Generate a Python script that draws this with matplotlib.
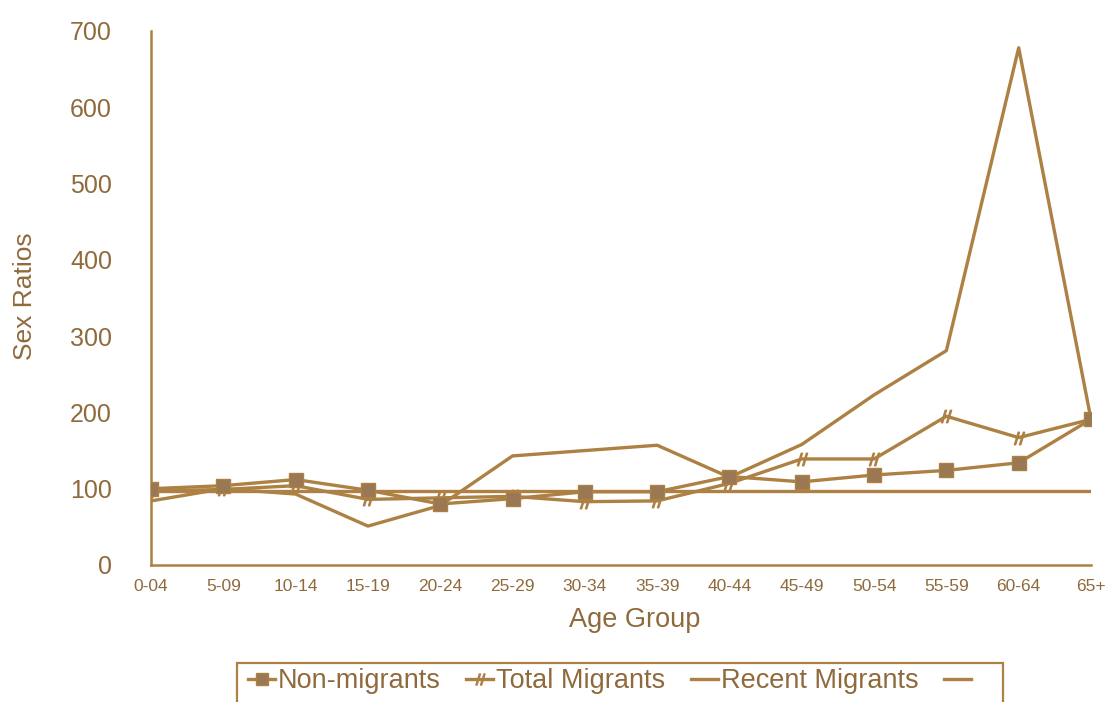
import matplotlib
matplotlib.use("Agg")
import matplotlib.pyplot as plt
from matplotlib.lines import Line2D
from matplotlib.patches import Rectangle

# Sex ratios by age group
age_groups = ["0-04", "5-09", "10-14", "15-19", "20-24", "25-29", "30-34",
              "35-39", "40-44", "45-49", "50-54", "55-59", "60-64", "65+"]
non_migrants = [100, 104, 112, 98, 80, 87, 96, 96, 116, 109, 118, 124, 134, 191]
total_migrants = [97, 99, 104, 86, 88, 90, 83, 84, 107, 139, 139, 195, 167, 191]
recent_migrants = [84, 100, 93, 51, 78, 143, 150, 157, 115, 158, 223, 281, 678, 191]
unlabelled = [97, 97, 97, 97, 97, 97, 97, 97, 97, 97, 97, 97, 97, 97]
y_ticks = [0, 100, 200, 300, 400, 500, 600, 700]

LINE = "#ad8043"
MARK = "#9a7853"
TEXT = "#8f6a3c"

plt.rcParams["font.family"] = ["Liberation Sans", "DejaVu Sans"]

fig = plt.figure(figsize=(11.12, 7.02), dpi=100)
ax = fig.add_axes([151 / 1112, 1 - 565 / 702, (1091 - 151) / 1112, (565 - 31) / 702])

x = list(range(len(age_groups)))
ax.plot(x, unlabelled, color=LINE, lw=2.4, zorder=2)
ax.plot(x, recent_migrants, color=LINE, lw=2.4, zorder=3)
ax.plot(x, total_migrants, color=LINE, lw=2.4, marker="$//$", ms=9,
        mec=LINE, mfc=LINE, zorder=4)
ax.plot(x, non_migrants, color=LINE, lw=2.4, marker="s", ms=10,
        mec=LINE, mfc=MARK, zorder=5)

ax.set_xlim(0, len(age_groups) - 1)
ax.set_ylim(0, 700)
ax.set_xticks(x)
ax.set_xticklabels(age_groups, fontsize=12.5, color=TEXT)
ax.set_yticks(y_ticks)
ax.set_yticklabels([str(v) for v in y_ticks], fontsize=18, color=TEXT)
ax.tick_params(axis="x", length=0, pad=10)
ax.tick_params(axis="y", length=0, pad=28)

for side in ("top", "right"):
    ax.spines[side].set_visible(False)
for side in ("left", "bottom"):
    ax.spines[side].set_color(LINE)
    ax.spines[side].set_linewidth(1.8)

fig.text(25 / 1112, 1 - 296 / 702, "Sex Ratios", fontsize=19, color=TEXT,
         rotation=90, ha="center", va="center")
fig.text(635 / 1112, 1 - 620 / 702, "Age Group", fontsize=19.5, color=TEXT,
         ha="center", va="center")

# Legend: box runs off the bottom of the page like the scan
fig.patches.append(Rectangle((237 / 1112, -0.05), (1003 - 237) / 1112,
                             0.05 + (702 - 663) / 702, transform=fig.transFigure,
                             fill=False, edgecolor=LINE, lw=1.6))
handles = [
    Line2D([], [], color=LINE, lw=2.4, marker="s", ms=8, mec=LINE, mfc=MARK),
    Line2D([], [], color=LINE, lw=2.4, marker="$//$", ms=8, mec=LINE),
    Line2D([], [], color=LINE, lw=2.4),
    Line2D([], [], color=LINE, lw=2.4),
]
labels = ["Non-migrants", "Total Migrants", "Recent Migrants", ""]
fig.legend(handles, labels, loc="center", bbox_to_anchor=(611 / 1112, 1 - 681 / 702),
           ncol=4, frameon=False, fontsize=19.5, labelcolor=TEXT,
           handlelength=1.0, handletextpad=0.1, columnspacing=0.95,
           borderpad=0, borderaxespad=0)

fig.savefig("out.png", dpi=100)
